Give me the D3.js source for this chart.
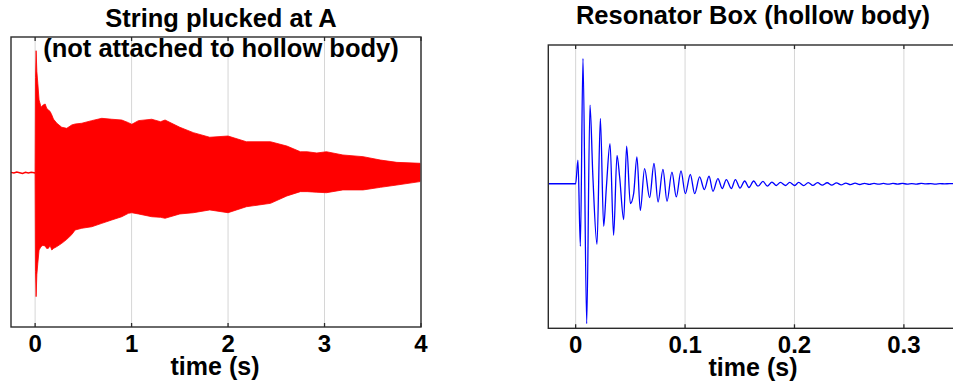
<!DOCTYPE html>
<html>
<head>
<meta charset="utf-8">
<style>
  body { margin: 0; background: #fff; }
  text { font-family: "Liberation Sans", Arial, sans-serif; font-weight: bold; fill: #000; }
</style>
</head>
<body>
<svg width="953" height="388" id="chart"></svg>
<script src="https://cdn.jsdelivr.net/npm/d3@7"></script>
<script>

// ---- left panel: plucked string (envelope of a dense waveform)
const preT = [-0.25, -0.22, -0.19, -0.16, -0.13, -0.10, -0.07, -0.04, -0.01, 0.0]
const preV = [0.004, 0.0, 0.006, 0.002, -0.003, 0.004, 0.0, 0.005, 0.002, 0.0]

const envT  = [0.0, 0.004, 0.0104, 0.018, 0.028, 0.041, 0.062, 0.08, 0.104, 0.12, 0.138, 0.155, 0.173, 0.19, 0.225, 0.276, 0.328, 0.38, 0.415, 0.484, 0.587, 0.691, 0.795, 0.898, 0.967, 1.002, 1.071, 1.209, 1.30, 1.347, 1.50, 1.64, 1.81, 2.00, 2.19, 2.44, 2.61, 2.75, 2.82, 2.92, 3.02, 3.19, 3.40, 3.58, 3.75, 3.99]
const envHi = [0.0, 0.62, 0.794, 0.66, 0.582, 0.474, 0.427, 0.44, 0.448, 0.42, 0.409, 0.40, 0.377, 0.35, 0.323, 0.297, 0.29, 0.312, 0.318, 0.323, 0.34, 0.355, 0.349, 0.344, 0.327, 0.316, 0.34, 0.349, 0.333, 0.344, 0.297, 0.262, 0.232, 0.24, 0.203, 0.203, 0.175, 0.138, 0.138, 0.13, 0.138, 0.117, 0.106, 0.084, 0.069, 0.063]
const envLo = [0.0, -0.64, -0.803, -0.66, -0.586, -0.5, -0.478, -0.47, -0.474, -0.49, -0.489, -0.47, -0.5, -0.49, -0.478, -0.457, -0.431, -0.40, -0.37, -0.359, -0.349, -0.327, -0.305, -0.284, -0.262, -0.258, -0.266, -0.284, -0.288, -0.294, -0.266, -0.258, -0.24, -0.258, -0.219, -0.197, -0.149, -0.121, -0.121, -0.125, -0.128, -0.11, -0.11, -0.093, -0.078, -0.056]

// ---- right panel: resonator box impulse response (peaks, troughs, knees)
const resT = [-0.025, 0.0, 0.0021, 0.0043, 0.0067, 0.0101, 0.0131, 0.0157, 0.0195, 0.0226, 0.0256, 0.0281, 0.0314, 0.0347, 0.0378, 0.0402, 0.0439, 0.0466, 0.050, 0.053, 0.056, 0.0591, 0.063, 0.0676, 0.0716, 0.0753, 0.0798, 0.0835, 0.088, 0.092, 0.0963, 0.1002, 0.1048, 0.1088, 0.1133, 0.1176, 0.1219, 0.1255, 0.130, 0.134, 0.1377, 0.1423, 0.146, 0.1502, 0.1545, 0.1584, 0.1627, 0.1666, 0.1712, 0.1752, 0.1794, 0.1834, 0.1871, 0.1920, 0.1956, 0.2002, 0.2038, 0.2084, 0.2126, 0.2168, 0.2211, 0.2254, 0.2299, 0.2341, 0.2384, 0.2427, 0.2469, 0.2512, 0.2554, 0.2597, 0.2640, 0.2684, 0.2727, 0.2770, 0.2813, 0.2856, 0.2900, 0.2943, 0.2986, 0.3029, 0.3072, 0.3115, 0.3158, 0.3201, 0.3244, 0.3287, 0.3330, 0.3373, 0.3416, 0.35]
const resV = [0.0, 0.0, 0.163, -0.433, 0.867, -0.968, 0.544, 0.059, -0.419, 0.452, -0.294, -0.022, 0.278, -0.357, 0.197, 0.047, -0.248, 0.260, -0.137, -0.068, 0.186, -0.184, 0.105, -0.096, 0.140, -0.126, 0.100, -0.121, 0.080, -0.091, 0.089, -0.068, 0.064, -0.068, 0.047, -0.040, 0.052, -0.052, 0.036, -0.033, 0.029, -0.033, 0.029, -0.030, 0.019, -0.026, 0.019, -0.017, 0.017, -0.017, 0.012, -0.012, 0.010, -0.012, 0.010, -0.012, 0.009, -0.013, 0.008, -0.011, 0.008, -0.010, 0.007, -0.009, 0.006, -0.008, 0.005, -0.006, 0.004, -0.005, 0.003, -0.004, 0.003, -0.003, 0.002, -0.003, 0.002, -0.002, 0.002, -0.002, 0.001, -0.002, 0.002, -0.001, 0.001, -0.002, 0.001, -0.001, 0.001, 0.0]

const leftTicks = [0, 1, 2, 3, 4]
const rightTicks = [0, 0.1, 0.2, 0.3]

const svg = d3.select('#chart')

function frame(g, x, y, ticks, fmt) {
  let [x0, x1] = x.range(), [y0, y1] = y.range()

  // light vertical grid
  g.append('g').selectAll('line').data(ticks).enter().append('line')
    .attr('x1', d => x(d)).attr('x2', d => x(d))
    .attr('y1', y1).attr('y2', y0)
    .attr('stroke', '#d6d6d6').attr('stroke-width', 1)
  return function after() {
    g.append('rect')
      .attr('x', x0).attr('y', y1).attr('width', x1 - x0).attr('height', y0 - y1)
      .attr('fill', 'none').attr('stroke', '#2b2b2b').attr('stroke-width', 1.4)
    // inside ticks, bottom and top
    let tk = g.append('g')
    ticks.forEach(d => {
      tk.append('line').attr('x1', x(d)).attr('x2', x(d)).attr('y1', y0).attr('y2', y0 - 4)
        .attr('stroke', '#2b2b2b').attr('stroke-width', 1.3)
      tk.append('line').attr('x1', x(d)).attr('x2', x(d)).attr('y1', y1).attr('y2', y1 + 4)
        .attr('stroke', '#2b2b2b').attr('stroke-width', 1.3)
    })
    g.append('g').selectAll('text').data(ticks).enter().append('text')
      .attr('x', d => x(d)).attr('y', y0 + 25)
      .attr('text-anchor', 'middle').style('font-size', '24px')
      .text(fmt)
  }
}

// ---------- left panel
{
  let g = svg.append('g')
  let x = d3.scaleLinear().domain([-0.25, 4]).range([11, 421])
  let y = d3.scaleLinear().domain([-1, 0.883]).range([327, 37])
  let finish = frame(g, x, y, leftTicks, d => d3.format('d')(d))

  let env = envT.map((t, i) => [t, envHi[i], envLo[i]])
  g.append('path').datum(env)
    .attr('fill', '#ff0000').attr('stroke', '#ff0000').attr('stroke-width', 0.8)
    .attr('d', d3.area().x(d => x(d[0])).y0(d => y(d[2])).y1(d => y(d[1])))

  g.append('path').datum(preT.map((t, i) => [t, preV[i]]))
    .attr('fill', 'none').attr('stroke', '#ff0000').attr('stroke-width', 1.5)
    .attr('d', d3.line().x(d => x(d[0])).y(d => y(d[1])))

  finish()

  g.append('text').attr('x', 221).attr('y', 27).attr('text-anchor', 'middle')
    .style('font-size', '25.5px').text('String plucked at A')
  g.append('text').attr('x', 221).attr('y', 57).attr('text-anchor', 'middle')
    .style('font-size', '25.5px').text('(not attached to hollow body)')
  g.append('text').attr('x', 215).attr('y', 375).attr('text-anchor', 'middle')
    .style('font-size', '25px').text('time (s)')
}

// ---------- right panel
{
  let g = svg.append('g')
  let x = d3.scaleLinear().domain([-0.025, 0.35]).range([548.3, 958.6])
  let y = d3.scaleLinear().domain([-1, 0.96]).range([328.3, 45])
  let finish = frame(g, x, y, rightTicks, d => d === 0 ? '0' : d3.format('.1f')(d))

  g.append('path').datum(resT.map((t, i) => [t, resV[i]]))
    .attr('fill', 'none').attr('stroke', '#0000ff').attr('stroke-width', 1.3)
    .attr('d', d3.line().curve(d3.curveMonotoneX).x(d => x(d[0])).y(d => y(d[1])))

  finish()

  g.append('text').attr('x', 753).attr('y', 24).attr('text-anchor', 'middle')
    .style('font-size', '25.5px').text('Resonator Box (hollow body)')
  g.append('text').attr('x', 753).attr('y', 376).attr('text-anchor', 'middle')
    .style('font-size', '25px').text('time (s)')
}

</script>
</body>
</html>
